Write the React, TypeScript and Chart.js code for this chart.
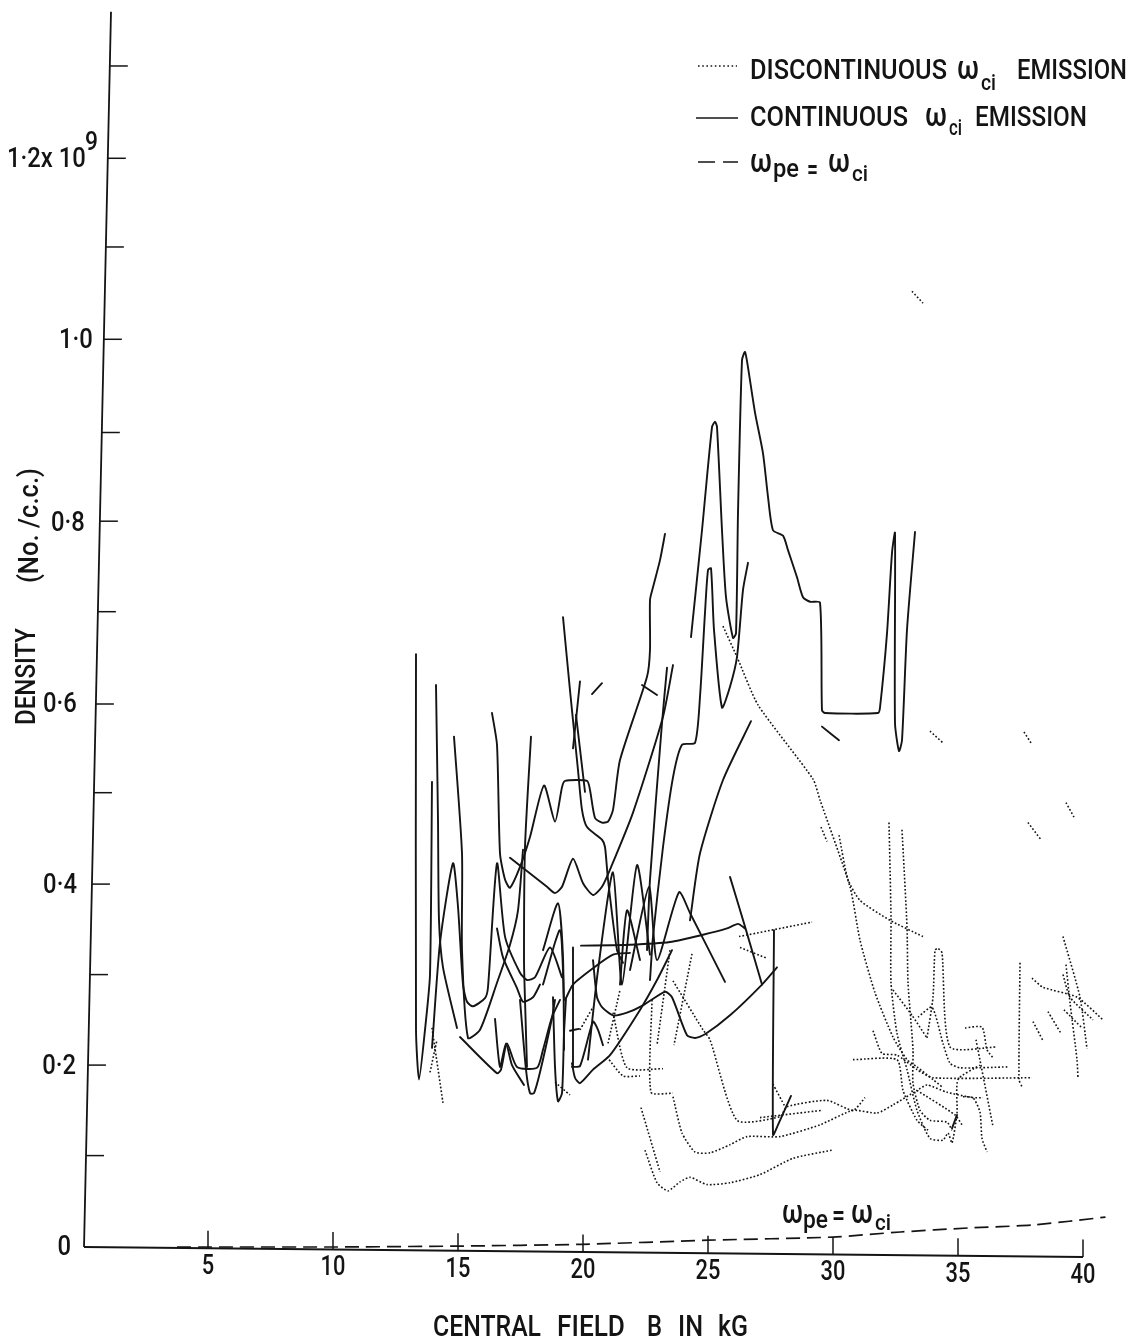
import React, { useEffect, useRef } from "react";
import { Chart, registerables } from "chart.js";

Chart.register(...registerables);

type Pt = [number, number];

const xTickValues = [5, 10, 15, 20, 25, 30, 35, 40];
const yMajorLabels: [number, string][] = [
  [0, "0"], [0.2, "0·2"], [0.4, "0·4"], [0.6, "0·6"], [0.8, "0·8"], [1.0, "1·0"], [1.2, "1·2x 10"],
];
const yTickValues = [0.101, 0.201, 0.301, 0.401, 0.502, 0.6, 0.702, 0.802, 0.9, 1.003, 1.105, 1.203, 1.305];

const wpeCurve: Pt[] = [[3.76, 0], [5, 0], [10, 0], [15, 0.001], [20, 0.003], [25, 0.0075], [30, 0.011], [32.7, 0.0166], [35.4, 0.021], [38, 0.0243], [40.9, 0.033]];

const s01: Pt[] = [[24.32,.674],[24.76,.792],[25.16,.906],[25.28,.912],[25.36,.906],[25.56,.792],[25.72,.718],[26,.673],[26.12,.678],[26.2,.811],[26.36,.98],[26.48,.989],[26.6,.972],[26.88,.922],[27.2,.877],[27.4,.829],[27.6,.792],[28,.786],[28.2,.77],[28.56,.74],[28.8,.718],[29.08,.713],[29.48,.712],[29.56,.593],[29.68,.59],[31.8,.59],[31.88,.596],[32.16,.678],[32.36,.767],[32.48,.789],[32.48,.579],[32.64,.548],[32.76,.56],[32.96,.682],[33.28,.79]];
const s02: Pt[] = [[22.68,.295],[22.8,.343],[23.2,.442],[23.6,.519],[23.96,.555],[24.48,.557],[24.68,.608],[24.88,.701],[25,.748],[25.12,.75],[25.24,.682],[25.56,.596],[25.88,.619],[26.16,.652],[26.4,.726],[26.6,.756]];
const s03: Pt[] = [[24.28,.361],[24.68,.435],[25.6,.516],[26.72,.581]];
const s04: Pt[] = [[16.36,.59],[16.56,.555],[16.68,.435],[16.88,.406],[17.08,.397],[17.48,.42],[17.88,.453],[18.44,.51],[18.88,.47],[19.16,.508],[19.28,.515],[20.16,.515],[20.28,.505],[20.48,.474],[20.76,.469],[21,.47],[21.2,.483],[21.48,.538],[22.56,.63],[22.68,.66],[22.68,.715],[22.8,.729],[23.08,.759],[23.28,.788]];
const s05: Pt[] = [[19.2,.696],[19.48,.615],[19.8,.527],[19.96,.483],[20.16,.464],[20.76,.45],[20.88,.442],[21,.406],[21.36,.328],[21.6,.314]];
const s06: Pt[] = [[19.88,.625],[19.6,.551]];
const s07: Pt[] = [[19.72,.588],[20.08,.503]];
const s08: Pt[] = [[20.36,.611],[20.76,.623]];
const s09: Pt[] = [[22.36,.621],[22.96,.61]];
const s10: Pt[] = [[17.08,.43],[18.56,.398],[18.88,.391],[19.16,.398],[19.6,.429],[20,.402],[20.4,.389],[20.76,.398],[21.08,.417],[22,.48],[23.2,.586],[23.6,.643]];
const s11: Pt[] = [[23.36,.64],[23.16,.579],[22.68,.406],[22.56,.328]];
const s12: Pt[] = [[13.32,.655],[13.32,.24],[13.44,.185],[13.68,.24],[13.88,.301],[13.96,.514]];
const s13: Pt[] = [[14.12,.621],[14.2,.472],[14.24,.361],[14.4,.309],[14.96,.242]];
const s14: Pt[] = [[13.96,.22],[14.28,.336],[14.8,.424],[15,.376],[15.2,.29],[15.36,.271],[15.6,.266],[16.08,.275],[16.2,.287],[16.56,.424],[16.88,.343],[17.48,.303],[17.76,.295],[18.08,.298],[18.68,.331],[19.16,.298]];
const s15: Pt[] = [[14.84,.564],[15.16,.435],[15.16,.328],[15.4,.231],[15.88,.24],[16.56,.292],[17.08,.334],[17.4,.372],[17.6,.439]];
const s16: Pt[] = [[17.92,.564],[17.68,.442],[17.64,.317],[17.68,.273],[17.76,.199]];
const s17: Pt[] = [[16.56,.352],[16.8,.32],[17.36,.286],[17.6,.271],[18,.276],[18.28,.29]];
const s18: Pt[] = [[15.08,.232],[16.56,.192],[16.72,.196],[16.96,.225],[17.36,.199],[18.16,.198],[18.4,.218],[18.76,.254],[19.08,.273]];
const s19: Pt[] = [[16.48,.252],[16.68,.199],[16.92,.225],[17.16,.201],[17.64,.179]];
const s20: Pt[] = [[17.48,.273],[17.72,.196],[17.88,.17],[18.04,.17],[18.28,.193],[18.76,.253],[18.88,.273]];
const s21: Pt[] = [[18.4,.328],[19,.38],[19.2,.32],[19.24,.218]];
const s22: Pt[] = [[18.8,.276],[18.88,.199],[19,.161],[19.16,.17],[19.24,.236],[19.32,.275]];
const s23: Pt[] = [[18.4,.29],[19.08,.35],[19.24,.273]];
const s24: Pt[] = [[19.6,.331],[19.6,.199]];
const s25: Pt[] = [[19.56,.203],[19.68,.187],[19.88,.181],[20.4,.196],[21.08,.212],[22.28,.262],[22.96,.295],[23.56,.328]];
const s26: Pt[] = [[19.32,.275],[19.6,.29],[20.4,.308],[21.2,.323],[21.88,.325]];
const s27: Pt[] = [[19.92,.333],[21.88,.334],[23.48,.337],[24.8,.345],[25.76,.352],[26.2,.357],[26.48,.352]];
const s28: Pt[] = [[20.4,.317],[20.56,.276],[20.76,.265],[21.2,.256],[21.76,.259],[22.4,.267],[23.28,.282],[23.56,.276],[24.16,.234],[24.48,.231],[24.88,.235],[25.88,.256],[27.16,.29],[27.76,.309]];
const s29: Pt[] = [[20.2,.207],[20.6,.306],[21.2,.414],[21.56,.29],[22.16,.422],[22.68,.323]];
const s30: Pt[] = [[21.48,.29],[21.76,.372],[22.28,.317]];
const s31: Pt[] = [[21.88,.306],[22.64,.398],[22.96,.317],[23.84,.392],[24.28,.369],[25.68,.293]];
const s32: Pt[] = [[25.88,.409],[26.48,.354],[27.16,.29]];
const s33: Pt[] = [[27.64,.35],[27.6,.124],[27.8,.135],[28.32,.167]];
const s34: Pt[] = [[19.56,.199],[19.88,.2],[20.4,.249],[20.6,.24],[20.8,.223]];
const s35: Pt[] = [[19.48,.239],[19.84,.241]];
const s36: Pt[] = [[34.76,.131],[34.96,.146]];
const s37: Pt[] = [[29.56,.575],[30.24,.56]];
const continuousCurves: Pt[][] = [s01,s02,s03,s04,s05,s06,s07,s08,s09,s10,s11,s12,s13,s14,s15,s16,s17,s18,s19,s20,s21,s22,s23,s24,s25,s26,s27,s28,s29,s30,s31,s32,s33,s34,s35,s36,s37];

const d01: Pt[] = [[25.6,.686],[26.16,.652],[27,.599],[29.2,.517],[29.48,.494],[30.68,.398],[31.08,.339],[31.68,.281],[32.4,.232],[32.96,.207],[33.36,.199],[34,.185],[34.36,.177]];
const d02: Pt[] = [[29.52,.464],[29.76,.448]];
const d03: Pt[] = [[30.24,.455],[30.6,.406],[31.08,.383],[32.28,.361],[33.6,.343]];
const d04: Pt[] = [[32.24,.469],[32.32,.365],[32.32,.292],[32.56,.236],[32.96,.196],[33.36,.151],[33.88,.12],[34.4,.118],[34.6,.126],[34.76,.115],[34.96,.148],[35,.185],[35.88,.201]];
const d05: Pt[] = [[32.76,.461],[32.96,.354],[33,.292],[33.2,.218],[33.2,.181],[33.48,.151],[33.88,.14],[34.56,.138],[34.76,.129]];
const d06: Pt[] = [[32.4,.284],[33.16,.256],[33.76,.231]];
const d07: Pt[] = [[33.76,.231],[34,.276],[34.08,.328],[34.2,.33],[34.36,.325],[34.68,.221],[36.56,.221]];
const d08: Pt[] = [[33.4,.254],[33.96,.265],[34.4,.225],[34.68,.203],[35.08,.198],[37,.199]];
const d09: Pt[] = [[30.8,.207],[32.56,.207],[32.8,.173],[33.36,.14],[33.8,.129]];
const d10: Pt[] = [[31.6,.239],[31.96,.214],[32.56,.212],[33.36,.196],[34,.187],[37.96,.187]];
const d11: Pt[] = [[22.48,.107],[22.96,.071],[23.4,.062],[23.88,.072],[24.28,.077],[24.96,.069],[25.88,.071],[27.08,.08],[28.4,.098],[29.96,.107]];
const d12: Pt[] = [[22.32,.154],[23.08,.083]];
const d13: Pt[] = [[23.6,.166],[23.96,.126],[24.48,.105],[25.08,.104],[25.88,.113],[26.56,.122],[27.88,.122],[29.48,.135],[30.8,.151],[31.76,.148],[32.4,.157],[33.36,.173],[33.76,.179],[34.56,.171],[35.6,.165],[36,.165]];
const d14: Pt[] = [[22.76,.273],[22.72,.171],[23.6,.17]];
const d15: Pt[] = [[23.6,.294],[24.8,.24],[25.08,.229],[26.16,.14],[27.88,.144],[28.16,.155],[29.76,.162],[30.8,.151],[31.28,.165]];
const d16: Pt[] = [[27.6,.18],[28.08,.155]];
const d17: Pt[] = [[27.08,.143],[29.56,.151]];
const d18: Pt[] = [[26.24,.343],[29.16,.359]];
const d19: Pt[] = [[26.28,.331],[27.36,.319]];
const d20: Pt[] = [[21,.225],[21.48,.284]];
const d21: Pt[] = [[21.2,.259],[21.76,.198],[23.2,.197]];
const d22: Pt[] = [[20.96,.21],[21.6,.189],[22.28,.189]];
const d23: Pt[] = [[19.88,.24],[20.4,.265]];
const d24: Pt[] = [[13.88,.193],[14.16,.229]];
const d25: Pt[] = [[13.96,.242],[14.4,.159]];
const d26: Pt[] = [[18.88,.182],[19.48,.168]];
const d27: Pt[] = [[23.48,.328],[22.96,.223]];
const d28: Pt[] = [[24.36,.324],[23.64,.223]];
const d29: Pt[] = [[37.96,.297],[38.4,.287],[39.76,.276],[40.8,.251]];
const d30: Pt[] = [[39.2,.343],[39.88,.276],[40.16,.219]];
const d31: Pt[] = [[39.32,.312],[39.48,.27],[39.76,.207],[39.8,.186]];
const d32: Pt[] = [[39.2,.301],[39.48,.276],[40.4,.251]];
const d33: Pt[] = [[38.6,.26],[39.12,.236]];
const d34: Pt[] = [[38,.249],[38.4,.228]];
const d35: Pt[] = [[39.24,.262],[39.96,.242]];
const d36: Pt[] = [[37.8,.469],[38.32,.45]];
const d37: Pt[] = [[39.32,.491],[39.64,.475]];
const d38: Pt[] = [[33.16,1.056],[33.6,1.043]];
const d39: Pt[] = [[33.88,.57],[34.4,.557]];
const d40: Pt[] = [[37.64,.569],[37.92,.557]];
const d41: Pt[] = [[35.28,.242],[35.96,.243],[36.16,.218],[36.4,.209]];
const d42: Pt[] = [[35.72,.229],[36.4,.133]];
const d43: Pt[] = [[33.36,.173],[34.88,.146],[35.16,.135]];
const d44: Pt[] = [[35.2,.166],[35.6,.165],[35.88,.149],[35.96,.12],[36.16,.105]];
const d45: Pt[] = [[37.48,.314],[37.44,.185],[37.56,.177]];
const discontinuousCurves: Pt[][] = [d01,d02,d03,d04,d05,d06,d07,d08,d09,d10,d11,d12,d13,d14,d15,d16,d17,d18,d19,d20,d21,d22,d23,d24,d25,d26,d27,d28,d29,d30,d31,d32,d33,d34,d35,d36,d37,d38,d39,d40,d41,d42,d43,d44,d45];

const yAxisEnds: Pt[] = [[0.04, 0], [1.12, 1.365]];
const xAxisEnds: Pt[] = [[0.04, 0], [40, -0.011]];

const INK = "#141414";
const FONT = "Roboto, 'Open Sans', sans-serif";

// The scanned axes lean slightly: these give the axis foot for a given value.
const yAxisFoot = (v: number) => 0.04 + (v / 1.365) * 1.08;
const xAxisFoot = (v: number) => (-0.011 * v) / 40;

const toData = (c: Pt[]) => c.map(([x, y]) => ({ x, y }));

function buildDatasets() {
  const base = { pointRadius: 0, borderColor: INK, clip: false as const, fill: false };
  const ds: any[] = [];
  continuousCurves.forEach((c) => ds.push({ ...base, data: toData(c), borderWidth: 1.9, tension: 0.22, borderCapStyle: "round", borderJoinStyle: "round" }));
  discontinuousCurves.forEach((c) => ds.push({ ...base, data: toData(c), borderWidth: 1.6, borderDash: [1.7, 2], tension: 0.2 }));
  ds.push({ ...base, data: toData(wpeCurve), borderWidth: 1.7, borderDash: [14, 7], tension: 0.2 });
  ds.push({ ...base, data: toData(yAxisEnds), borderWidth: 1.8 });
  ds.push({ ...base, data: toData(xAxisEnds), borderWidth: 1.9 });
  yTickValues.forEach((v) => ds.push({ ...base, data: [{ x: yAxisFoot(v), y: v }, { x: yAxisFoot(v) + 0.72, y: v }], borderWidth: 1.5 }));
  xTickValues.forEach((v) => ds.push({ ...base, data: [{ x: v, y: xAxisFoot(v) }, { x: v, y: xAxisFoot(v) + 0.0194 }], borderWidth: 1.5 }));
  return ds;
}

function put(ctx: CanvasRenderingContext2D, s: string, x: number, y: number, size: number, w?: number, align: CanvasTextAlign = "left", weight = 500) {
  ctx.font = `${weight} ${size}px ${FONT}`;
  ctx.textAlign = align;
  ctx.textBaseline = "alphabetic";
  ctx.fillStyle = INK;
  if (w) ctx.fillText(s, x, y, w);
  else ctx.fillText(s, x, y);
}

function omegaCi(ctx: CanvasRenderingContext2D, x: number, base: number, sub: string, subW: number, subDrop: number, gap = 24) {
  put(ctx, "ω", x, base, 34, 22);
  put(ctx, sub, x + gap, base + subDrop, 22, subW);
}

const paperText = {
  id: "paperText",
  afterDraw(chart: any) {
    const ctx: CanvasRenderingContext2D = chart.ctx;
    const xs = chart.scales.x;
    const ys = chart.scales.y;
    ctx.save();

    xTickValues.forEach((v) => {
      const px = xs.getPixelForValue(v);
      const py = ys.getPixelForValue(xAxisFoot(v)) + 26;
      ctx.font = `500 28px ${FONT}`;
      const w = ctx.measureText(String(v)).width * 0.78;
      put(ctx, String(v), px, py, 28, w, "center");
    });

    const yGap: Record<string, number> = { "0": 13, "0·2": 12, "0·4": 15, "0·6": 19, "0·8": 15, "1·0": 11, "1·2x 10": 22 };
    yMajorLabels.forEach(([v, label]) => {
      const foot = xs.getPixelForValue(yAxisFoot(v));
      const py = ys.getPixelForValue(v) + 8 - (v > 0.9 ? 2 : 0);
      ctx.font = `500 28px ${FONT}`;
      const w = ctx.measureText(label).width * 0.85;
      put(ctx, label, foot - yGap[label], py, 28, w, "right");
    });
    put(ctx, "9", 85, 150, 26, 13);

    // axis titles
    put(ctx, "CENTRAL", 433, 1336, 29, 108);
    put(ctx, "FIELD", 557, 1336, 29, 68);
    put(ctx, "B", 647, 1336, 29, 15);
    put(ctx, "IN", 678, 1336, 29, 25);
    put(ctx, "kG", 718, 1336, 29, 30);
    ctx.save();
    ctx.translate(35, 725);
    ctx.rotate(-Math.PI / 2);
    put(ctx, "DENSITY", 0, 0, 27, 97);
    ctx.restore();
    ctx.save();
    ctx.translate(38, 583);
    ctx.rotate(-Math.PI / 2);
    put(ctx, "(No. /c.c.)", 0, 0, 27, 115);
    ctx.restore();

    // legend keys
    ctx.strokeStyle = INK;
    ctx.lineWidth = 1.3;
    ctx.setLineDash([1.6, 2.6]);
    ctx.beginPath(); ctx.moveTo(698, 66); ctx.lineTo(737, 66); ctx.stroke();
    ctx.setLineDash([]);
    ctx.lineWidth = 1.7;
    ctx.beginPath(); ctx.moveTo(696, 118); ctx.lineTo(738, 118); ctx.stroke();
    ctx.setLineDash([17, 8]);
    ctx.beginPath(); ctx.moveTo(698, 162); ctx.lineTo(738, 162); ctx.stroke();
    ctx.setLineDash([]);

    // legend text
    put(ctx, "DISCONTINUOUS", 750, 79, 27, 197);
    omegaCi(ctx, 957, 79, "ci", 15, 11);
    put(ctx, "EMISSION", 1017, 79, 27, 110);
    put(ctx, "CONTINUOUS", 750, 126, 27, 158);
    omegaCi(ctx, 925, 126, "ci", 13, 9);
    put(ctx, "EMISSION", 975, 126, 27, 112);
    put(ctx, "ω", 750, 172, 34, 22);
    put(ctx, "pe", 773, 177, 26, 26);
    put(ctx, "=", 807, 179, 30, 11);
    omegaCi(ctx, 828, 172, "ci", 16, 9);

    // curve annotation
    put(ctx, "ω", 782, 1223, 34, 21);
    put(ctx, "pe", 803, 1228, 26, 25);
    put(ctx, "=", 832, 1225, 30, 13);
    omegaCi(ctx, 851, 1223, "ci", 16, 7);
    ctx.restore();
  },
};

export default function App() {
  const ref = useRef<HTMLCanvasElement>(null);
  useEffect(() => {
    const chart = new Chart(ref.current as HTMLCanvasElement, {
      type: "line",
      data: { datasets: buildDatasets() },
      options: {
        animation: false,
        responsive: false,
        parsing: false as any,
        normalized: false,
        layout: { padding: { left: 83, right: 3, top: 7.15, bottom: 94 } },
        plugins: { legend: { display: false }, tooltip: { enabled: false } },
        scales: {
          x: { type: "linear", min: 0, max: 42, display: false },
          y: { type: "linear", min: 0, max: 1.37, display: false },
        },
      },
      plugins: [paperText as any],
    } as any);
    return () => chart.destroy();
  }, []);
  return (
    <div style={{ position: "absolute", left: 0, top: 0, width: 1136, height: 1341, background: "#fff" }}>
      <canvas ref={ref} width={1136} height={1341} style={{ display: "block" }} />
    </div>
  );
}
